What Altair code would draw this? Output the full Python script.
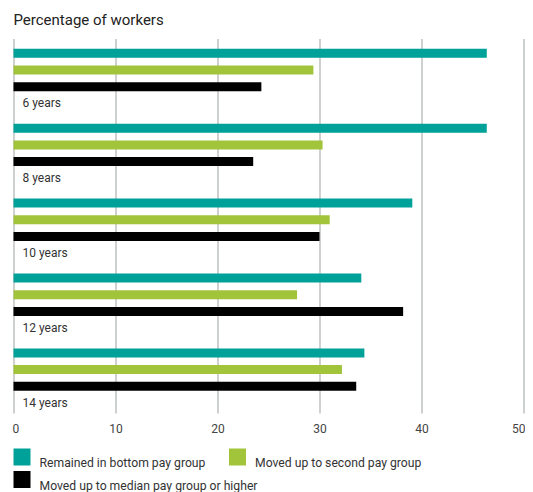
import altair as alt
import pandas as pd

years = ["6 years", "8 years", "10 years", "12 years", "14 years"]
series = ["Remained in bottom pay group", "Moved up to second pay group",
          "Moved up to median pay group or higher"]
remained = [46.4, 46.4, 39.1, 34.1, 34.4]
second = [29.4, 30.3, 31.0, 27.8, 32.2]
median = [24.3, 23.5, 30.0, 38.2, 33.6]
colors = ["#00a199", "#a1c43a", "#000000"]
x_ticks = [0, 10, 20, 30, 40, 50]

slots = series + ["label"]

rows = []
for i, y in enumerate(years):
    for s, vals in zip(series, [remained, second, median]):
        rows.append({"year": y, "series": s, "slot": s, "value": vals[i]})
bars_df = pd.DataFrame(rows)
labels_df = pd.DataFrame({"year": years, "slot": ["label"] * len(years), "value": [0] * len(years)})

FONT = "Roboto"

y_enc = alt.Y("year:N", sort=years, axis=None,
              scale=alt.Scale(paddingInner=0, paddingOuter=0, range=[0, 374.5]))
yoff_enc = alt.YOffset("slot:N", sort=slots,
                       scale=alt.Scale(domain=slots, paddingInner=0, paddingOuter=0.2425, align=0.364))

bars = alt.Chart(bars_df).mark_bar(height=9).encode(
    x=alt.X("value:Q",
            scale=alt.Scale(domain=[0, 50], nice=False, zero=True),
            axis=alt.Axis(values=x_ticks, title=None, grid=True, domain=False, ticks=False,
                          labelFlush=True, labelFlushOffset=1.5, labelPadding=10, labelFontSize=12,
                          labelColor="#444444", labelFont=FONT,
                          gridColor="#b3b9b7", gridWidth=1.3)),
    y=y_enc,
    yOffset=yoff_enc,
    color=alt.Color("series:N", sort=series,
                    scale=alt.Scale(domain=series, range=colors),
                    legend=alt.Legend(title=None, orient="none", legendX=0, legendY=406.5,
                                      direction="horizontal", columns=2, gridAlign="none",
                                      symbolType="square", symbolSize=289, symbolStrokeWidth=0,
                                      symbolOpacity=1, labelFontSize=12.2, labelColor="#333333",
                                      labelFont=FONT, labelOffset=9, columnPadding=-28.5,
                                      labelBaseline="top", rowPadding=1.5, labelLimit=400)),
)

texts = alt.Chart(labels_df).mark_text(align="left", baseline="middle", dx=9,
                                       fontSize=12, color="#333333", font=FONT).encode(
    x=alt.X("value:Q"),
    y=y_enc,
    yOffset=yoff_enc,
    text="year:N",
)

chart = alt.layer(bars, texts).properties(
    width=510, height=371,
    title=alt.TitleParams("Percentage of workers", anchor="start", frame="group",
                          fontSize=15, fontWeight="normal", color="#222222", font=FONT,
                          offset=14),
    autosize=alt.AutoSizeParams(type="none"),
    padding={"left": 5.5, "top": 34, "right": 1.5, "bottom": 80},
).configure_view(stroke=None)

chart.save("out.html", embed_options={"renderer": "svg", "actions": False})
